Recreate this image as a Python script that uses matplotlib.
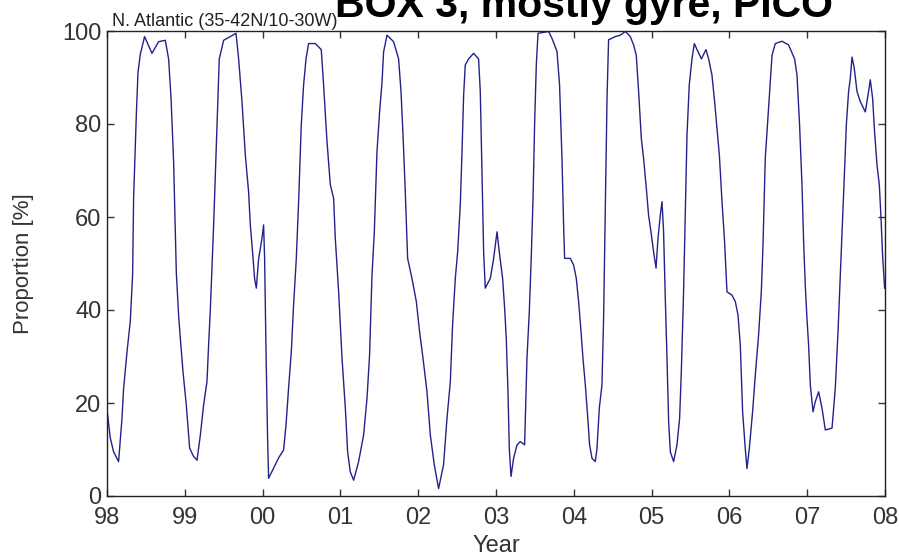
import matplotlib; matplotlib.use("Agg")
import matplotlib.pyplot as plt

plt.rcParams['font.family'] = ['Liberation Sans', 'DejaVu Sans']

# decimal year vs proportion of pico (%)
year = [1998.000, 1998.004, 1998.042, 1998.085, 1998.149, 1998.193, 1998.213, 1998.257, 1998.299, 1998.329,
        1998.342, 1998.377, 1998.398, 1998.428, 1998.483, 1998.578, 1998.663, 1998.749, 1998.792, 1998.823,
        1998.856, 1998.891, 1998.920, 1998.942, 1998.977, 1999.019, 1999.062, 1999.113, 1999.157, 1999.199,
        1999.242, 1999.285, 1999.306, 1999.328, 1999.370, 1999.414, 1999.443, 1999.499, 1999.585, 1999.658,
        1999.692, 1999.735, 1999.778, 1999.820, 1999.842, 1999.871, 1999.897, 1999.919, 1999.949, 1999.992,
        2000.013, 2000.026, 2000.044, 2000.064, 2000.077, 2000.141, 2000.206, 2000.270, 2000.301, 2000.334,
        2000.369, 2000.398, 2000.433, 2000.463, 2000.497, 2000.527, 2000.558, 2000.591, 2000.677, 2000.754,
        2000.784, 2000.828, 2000.870, 2000.913, 2000.934, 2000.977, 2001.021, 2001.063, 2001.093, 2001.127,
        2001.170, 2001.234, 2001.298, 2001.342, 2001.375, 2001.406, 2001.436, 2001.470, 2001.504, 2001.535,
        2001.555, 2001.599, 2001.684, 2001.748, 2001.779, 2001.805, 2001.834, 2001.864, 2001.920, 2001.976,
        2002.018, 2002.062, 2002.113, 2002.156, 2002.207, 2002.262, 2002.326, 2002.370, 2002.413, 2002.442,
        2002.477, 2002.507, 2002.541, 2002.563, 2002.584, 2002.605, 2002.648, 2002.712, 2002.776, 2002.798,
        2002.820, 2002.841, 2002.862, 2002.927, 2002.969, 2003.013, 2003.042, 2003.085, 2003.111, 2003.132,
        2003.154, 2003.171, 2003.193, 2003.226, 2003.270, 2003.312, 2003.368, 2003.377, 2003.398, 2003.428,
        2003.454, 2003.476, 2003.496, 2003.518, 2003.540, 2003.676, 2003.720, 2003.784, 2003.817, 2003.848,
        2003.869, 2003.882, 2003.955, 2003.997, 2004.032, 2004.062, 2004.093, 2004.118, 2004.148, 2004.177,
        2004.203, 2004.234, 2004.276, 2004.298, 2004.328, 2004.362, 2004.383, 2004.405, 2004.427, 2004.447,
        2004.533, 2004.598, 2004.662, 2004.726, 2004.769, 2004.803, 2004.833, 2004.868, 2004.897, 2004.932,
        2004.961, 2004.992, 2005.026, 2005.057, 2005.082, 2005.112, 2005.134, 2005.154, 2005.176, 2005.198,
        2005.219, 2005.241, 2005.283, 2005.326, 2005.360, 2005.382, 2005.411, 2005.433, 2005.455, 2005.484,
        2005.519, 2005.549, 2005.584, 2005.640, 2005.699, 2005.733, 2005.776, 2005.810, 2005.841, 2005.871,
        2005.905, 2005.938, 2005.969, 2006.033, 2006.076, 2006.111, 2006.140, 2006.170, 2006.204, 2006.226,
        2006.256, 2006.298, 2006.333, 2006.375, 2006.410, 2006.432, 2006.461, 2006.504, 2006.548, 2006.590,
        2006.676, 2006.761, 2006.838, 2006.869, 2006.902, 2006.933, 2006.954, 2006.975, 2006.997, 2007.018,
        2007.040, 2007.075, 2007.104, 2007.147, 2007.190, 2007.233, 2007.319, 2007.361, 2007.396, 2007.426,
        2007.455, 2007.481, 2007.503, 2007.532, 2007.554, 2007.576, 2007.605, 2007.640, 2007.683, 2007.747,
        2007.789, 2007.811, 2007.841, 2007.866, 2007.897, 2007.927, 2007.949, 2007.969, 2007.995]
pico = [21.0, 18.0, 12.5, 9.5, 7.4, 16.8, 23.0, 31.0, 37.5, 47.5,
        64.0, 82.0, 91.0, 95.0, 98.8, 95.2, 97.7, 98.0, 94.0, 85.6,
        72.0, 48.0, 39.0, 34.0, 26.7, 19.6, 10.3, 8.5, 7.7, 13.0,
        19.6, 24.6, 32.5, 40.0, 58.0, 80.0, 94.0, 98.0, 98.8, 99.5,
        94.0, 84.8, 73.3, 65.4, 58.3, 52.5, 46.8, 44.7, 51.0, 55.4,
        58.3, 51.0, 31.0, 12.5, 3.8, 6.0, 8.2, 9.9, 15.3, 23.2,
        31.0, 41.0, 51.0, 63.3, 79.8, 88.4, 94.0, 97.3, 97.3, 96.0,
        88.4, 76.2, 67.0, 64.0, 55.5, 44.0, 29.6, 19.0, 9.5, 5.2,
        3.4, 7.4, 13.1, 21.0, 30.3, 47.5, 56.8, 74.0, 82.6, 89.0,
        95.5, 99.1, 97.7, 94.0, 87.0, 77.6, 65.4, 51.1, 46.8, 41.8,
        35.3, 29.6, 22.4, 13.1, 6.7, 1.6, 6.7, 16.7, 24.6, 36.8,
        46.8, 52.5, 62.6, 74.0, 86.2, 92.7, 94.0, 95.2, 94.0, 87.0,
        69.0, 52.5, 44.7, 46.8, 51.0, 56.8, 52.5, 46.8, 40.4, 33.9,
        22.4, 10.2, 4.2, 8.1, 11.0, 11.7, 11.0, 16.7, 29.6, 39.6,
        51.8, 64.0, 79.8, 92.7, 99.5, 99.9, 98.4, 95.6, 88.4, 72.6,
        58.3, 51.1, 51.1, 49.7, 46.8, 41.8, 35.3, 29.6, 23.9, 17.4,
        11.0, 8.1, 7.4, 10.2, 18.9, 23.9, 38.2, 61.9, 85.5, 98.1,
        98.8, 99.1, 99.9, 98.8, 97.0, 94.8, 87.0, 76.9, 72.6, 66.2,
        60.4, 56.8, 52.5, 49.0, 55.4, 60.4, 63.3, 56.8, 42.5, 29.6,
        16.0, 9.5, 7.4, 11.0, 16.7, 26.7, 43.9, 61.1, 77.6, 88.4,
        94.0, 97.3, 96.0, 94.0, 96.0, 94.0, 90.5, 84.8, 79.0, 73.3,
        63.3, 54.7, 43.9, 43.2, 41.8, 38.9, 32.5, 18.1, 10.2, 5.9,
        10.2, 18.1, 26.0, 34.6, 43.9, 54.0, 72.6, 83.4, 94.8, 97.3,
        97.8, 97.0, 94.0, 90.5, 79.8, 66.9, 54.7, 45.4, 38.2, 32.5,
        23.9, 18.1, 20.3, 22.4, 18.9, 14.2, 14.6, 23.2, 35.3, 47.5,
        59.0, 70.4, 79.8, 87.0, 89.8, 94.4, 92.0, 87.0, 84.8, 82.6,
        87.0, 89.5, 85.5, 78.3, 71.2, 66.9, 59.7, 51.8, 44.7]

xticks = list(range(1998, 2009))
xlabels = ['98', '99', '00', '01', '02', '03', '04', '05', '06', '07', '08']
yticks = [0, 20, 40, 60, 80, 100]

fig = plt.figure(figsize=(8.99, 5.59), dpi=100)
ax = fig.add_axes([107/899, 1-496/559, 778/899, 465/559])
ax.plot(year, pico, color='#22228a', lw=1.0)
ax.set_xlim(1998, 2008); ax.set_ylim(0, 100)
ax.set_xticks(xticks); ax.set_xticklabels(xlabels)
ax.set_yticks(yticks)
ax.tick_params(direction='in', top=True, right=True, length=5, width=1, labelsize=17,
               colors='#333333')
ax.tick_params(axis='x', pad=8); ax.tick_params(axis='y', pad=4)
for s in ax.spines.values(): s.set_color('#222222'); s.set_linewidth(1)

ax.set_xlabel('Year', fontsize=17, va='center', color='#333333')
ax.xaxis.set_label_coords(0.5, -0.108)
ax.set_ylabel('Proportion [%]', fontsize=16, va='center', color='#333333')
ax.yaxis.set_label_coords(-0.107, 0.5)

fig.text(112/899, 1-26/559, 'N. Atlantic (35-42N/10-30W)', fontsize=13, ha='left', va='baseline', color='#222222')
fig.text(335/899, 1-17/559, 'BOX 3, mostly gyre, PICO', fontsize=29.5, fontweight='bold', ha='left', va='baseline')

fig.savefig('out.png', dpi=100)
